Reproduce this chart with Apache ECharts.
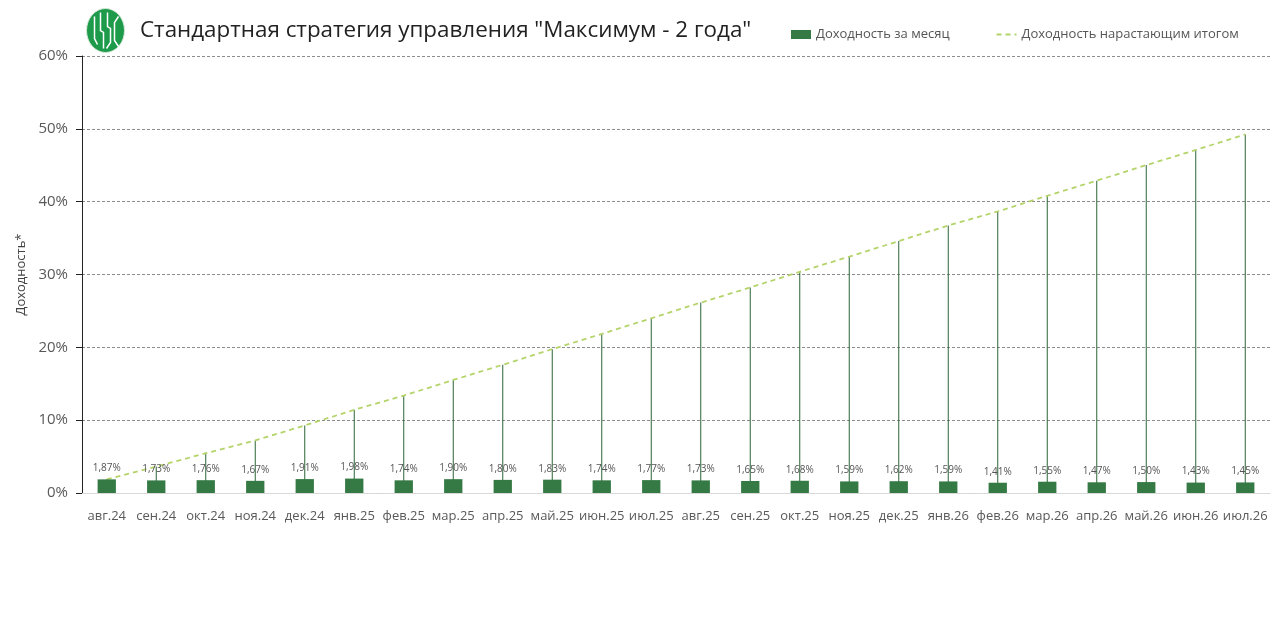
<!DOCTYPE html>
<html>
<head>
<meta charset="utf-8">
<script src="https://cdn.jsdelivr.net/npm/echarts@6/dist/echarts.min.js"></script>
<style>
html, body { margin: 0; padding: 0; background: #fff; }
#main { width: 1280px; height: 633px; }
</style>
</head>
<body>
<div id="main"></div>
<script>
var chartDom = document.getElementById('main');
var myChart = echarts.init(chartDom);
var option;

// месяцы
let months = ['авг.24','сен.24','окт.24','ноя.24','дек.24','янв.25','фев.25','мар.25','апр.25','май.25','июн.25','июл.25',
  'авг.25','сен.25','окт.25','ноя.25','дек.25','янв.26','фев.26','мар.26','апр.26','май.26','июн.26','июл.26'];
// доходность за месяц, %
let monthly = [1.87,1.73,1.76,1.67,1.91,1.98,1.74,1.90,1.80,1.83,1.74,1.77,
  1.73,1.65,1.68,1.59,1.62,1.59,1.41,1.55,1.47,1.50,1.43,1.45];
// доходность нарастающим итогом, %
let cumulative = [1.87,3.63,5.46,7.22,9.27,11.43,13.37,15.52,17.60,19.75,21.84,23.99,
  26.14,28.22,30.37,32.45,34.59,36.73,38.66,40.81,42.88,45.02,47.10,49.23];
let yTicks = [0,10,20,30,40,50,60];

const fontFam = '"Open Sans", "Noto Sans", sans-serif';

option = {
  animation: false,
  backgroundColor: '#fff',
  textStyle: { fontFamily: fontFam },
  graphic: [
    {
      type: 'group', left: 86, top: 8,
      children: [
        { type: 'ellipse', shape: { cx: 20, cy: 22, rx: 19, ry: 22 }, style: { fill: '#1e9a4b', stroke: '#d8eadb', lineWidth: 1 } },
        { type: 'polyline', shape: { points: [[9,8],[9,30],[12,36]] }, style: { stroke: '#fff', lineWidth: 1.5, fill: null } },
        { type: 'polyline', shape: { points: [[15,4],[15,22],[18,24],[18,40]] }, style: { stroke: '#fff', lineWidth: 1.5, fill: null } },
        { type: 'polyline', shape: { points: [[22,4],[22,18],[25,20],[25,34],[21,40]] }, style: { stroke: '#fff', lineWidth: 1.5, fill: null } },
        { type: 'polyline', shape: { points: [[33,8],[29,14],[29,32],[33,38]] }, style: { stroke: '#fff', lineWidth: 1.5, fill: null } }
      ]
    },
    {
      type: 'text', left: 140, top: 20,
      style: { text: 'Стандартная стратегия управления "Максимум - 2 года"', fontSize: 22.4, fill: '#222', fontFamily: fontFam }
    }
  ],
  legend: {
    top: 23,
    left: 786,
    itemGap: 46,
    itemWidth: 20,
    itemHeight: 9,
    textStyle: { fontSize: 13, color: '#555' },
    data: [
      { name: 'Доходность за месяц', icon: 'rect' },
      { name: 'Доходность нарастающим итогом', itemStyle: { opacity: 0 } }
    ]
  },
  grid: { left: 82, right: 10, top: 56, bottom: 140, containLabel: false },
  xAxis: [
    {
      type: 'category',
      data: months,
      axisLine: { lineStyle: { color: '#d9d9d9' } },
      axisTick: { show: false },
      axisLabel: { color: '#595959', fontSize: 13, margin: 17, interval: 0 }
    },
    {
      type: 'category',
      data: months,
      show: false
    }
  ],
  yAxis: {
    type: 'value',
    min: yTicks[0],
    max: yTicks[yTicks.length - 1],
    interval: 10,
    name: 'Доходность*',
    nameLocation: 'middle',
    nameGap: 52,
    nameTextStyle: { color: '#444', fontSize: 13 },
    axisLine: { show: true, lineStyle: { color: '#222' } },
    axisTick: { show: true, length: 6, lineStyle: { color: '#222' } },
    axisLabel: { formatter: '{value}%', color: '#595959', fontSize: 15, margin: 14 },
    splitLine: { lineStyle: { type: [3, 2], color: '#8c8c8c' } }
  },
  series: [
    {
      name: 'drop',
      type: 'bar',
      xAxisIndex: 1,
      barWidth: 1,
      silent: true,
      z: 1,
      itemStyle: { color: '#2b6336' },
      data: cumulative
    },
    {
      name: 'Доходность за месяц',
      type: 'bar',
      barWidth: '37%',
      z: 3,
      itemStyle: { color: '#357a45' },
      label: {
        show: true,
        position: 'top',
        distance: 6,
        fontSize: 10,
        color: '#555',
        formatter: function (p) { return p.value.toFixed(2).replace('.', ',') + '%'; }
      },
      data: monthly
    },
    {
      name: 'Доходность нарастающим итогом',
      type: 'line',
      symbol: 'none',
      z: 2,
      itemStyle: { color: '#b4d46a' },
      lineStyle: { color: '#b4d46a', width: 1.8, type: [5, 4] },
      data: cumulative
    }
  ]
};

option && myChart.setOption(option);
</script>
</body>
</html>
